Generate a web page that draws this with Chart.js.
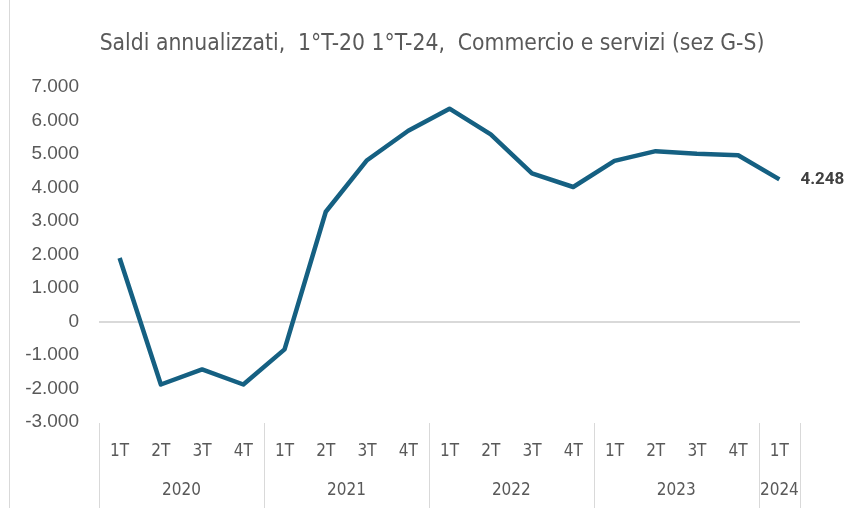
<!DOCTYPE html>
<html>
<head>
<meta charset="utf-8">
<script src="https://cdn.jsdelivr.net/npm/chart.js@4"></script>
<style>
    html, body { margin: 0; padding: 0; background: #fff; }
    #wrap { position: relative; width: 845px; height: 508px; }
    #wrap:before { content: ''; position: absolute; left: 9px; top: 0; bottom: 0; border-left: 1px solid #d9d9d9; }
</style>
</head>
<body>
<div id="wrap"><canvas id="chart" width="845" height="508"></canvas></div>
<script>
// Data
const quarters = ['1T', '2T', '3T', '4T', '1T', '2T', '3T', '4T', '1T', '2T', '3T', '4T', '1T', '2T', '3T', '4T', '1T'];
const years = ['2020', '2021', '2022', '2023', '2024'];
const yearSizes = [4, 4, 4, 4, 1];
const saldi = [1900, -1880, -1430, -1880, -830, 3280, 4820, 5700, 6360, 5590, 4430, 4020, 4800, 5090, 5010, 4970, 4248];
const yTicks = [-3000, -2000, -1000, 0, 1000, 2000, 3000, 4000, 5000, 6000, 7000];

const narrow = "'Liberation Sans Narrow', 'DejaVu Sans Condensed', sans-serif";
const grey = '#595959';

function fmt(v) {
    return v.toLocaleString('it-IT');
}

// year row + separators under the category labels
const yearAxis = {
    id: 'yearAxis',
    afterDraw(chart) {
        const ctx = chart.ctx;
        const x = chart.scales.x;
        const area = chart.chartArea;
        const step = x.getPixelForValue(1) - x.getPixelForValue(0);
        let start = 0;
        ctx.save();
        ctx.strokeStyle = '#d9d9d9';
        ctx.lineWidth = 1;
        ctx.fillStyle = grey;
        ctx.font = '17px ' + narrow;
        ctx.textAlign = 'center';
        ctx.textBaseline = 'middle';
        const drawSep = px => {
            ctx.beginPath();
            ctx.moveTo(Math.round(px) + 0.5, area.bottom + 1);
            ctx.lineTo(Math.round(px) + 0.5, chart.height);
            ctx.stroke();
        };
        years.forEach((y, i) => {
            const left = x.getPixelForValue(start) - step / 2;
            const right = x.getPixelForValue(start + yearSizes[i] - 1) + step / 2;
            if (i === 0) drawSep(left);
            drawSep(right);
            ctx.fillText(y, (left + right) / 2, 491);
            start += yearSizes[i];
        });
        ctx.restore();
    }
};

// label of the last point
const lastLabel = {
    id: 'lastLabel',
    afterDatasetsDraw(chart) {
        const meta = chart.getDatasetMeta(0);
        const pt = meta.data[meta.data.length - 1];
        const ctx = chart.ctx;
        ctx.save();
        ctx.fillStyle = '#404040';
        ctx.font = 'bold 17px Roboto, sans-serif';
        ctx.textAlign = 'left';
        ctx.textBaseline = 'middle';
        ctx.fillText(fmt(saldi[saldi.length - 1]), pt.x + 21, pt.y);
        ctx.restore();
    }
};

new Chart(document.getElementById('chart'), {
    type: 'line',
    data: {
        labels: quarters,
        datasets: [{
            data: saldi,
            borderColor: '#156082',
            borderWidth: 4.5,
            pointRadius: 0,
            tension: 0,
            borderJoinStyle: 'round',
            fill: false
        }]
    },
    options: {
        responsive: false,
        animation: false,
        layout: { padding: { left: 19, right: 0, top: 0, bottom: 0 } },
        plugins: {
            legend: { display: false },
            tooltip: { enabled: false },
            title: {
                display: true,
                text: 'Saldi annualizzati,  1°T-20 1°T-24,  Commercio e servizi (sez G-S)',
                color: grey,
                font: { family: narrow, size: 22.7, weight: 'normal' },
                padding: { top: 30, bottom: 30 }
            }
        },
        scales: {
            x: {
                offset: true,
                grid: { display: false },
                border: { display: false },
                ticks: {
                    color: grey,
                    font: { family: narrow, size: 17 },
                    maxRotation: 0,
                    autoSkip: false,
                    padding: 11
                },
                afterFit: s => { s.height = 86; }
            },
            y: {
                min: -3000,
                max: 7000,
                afterBuildTicks: s => { s.ticks = yTicks.map(v => ({ value: v })); },
                grid: {
                    drawTicks: false,
                    color: c => c.tick && c.tick.value === 0 ? '#d9d9d9' : 'rgba(0,0,0,0)',
                    lineWidth: 2
                },
                border: { display: false },
                ticks: {
                    color: grey,
                    font: { family: "'Liberation Sans', Arial, sans-serif", size: 19 },
                    padding: 20,
                    callback: v => fmt(v)
                },
                afterFit: s => { s.width = 80; }
            },
            // empty strip on the right, room for the value label
            yRight: {
                position: 'right',
                grid: { display: false },
                border: { display: false },
                ticks: { display: false },
                afterFit: s => { s.width = 45; }
            }
        }
    },
    plugins: [yearAxis, lastLabel]
});
</script>
</body>
</html>
